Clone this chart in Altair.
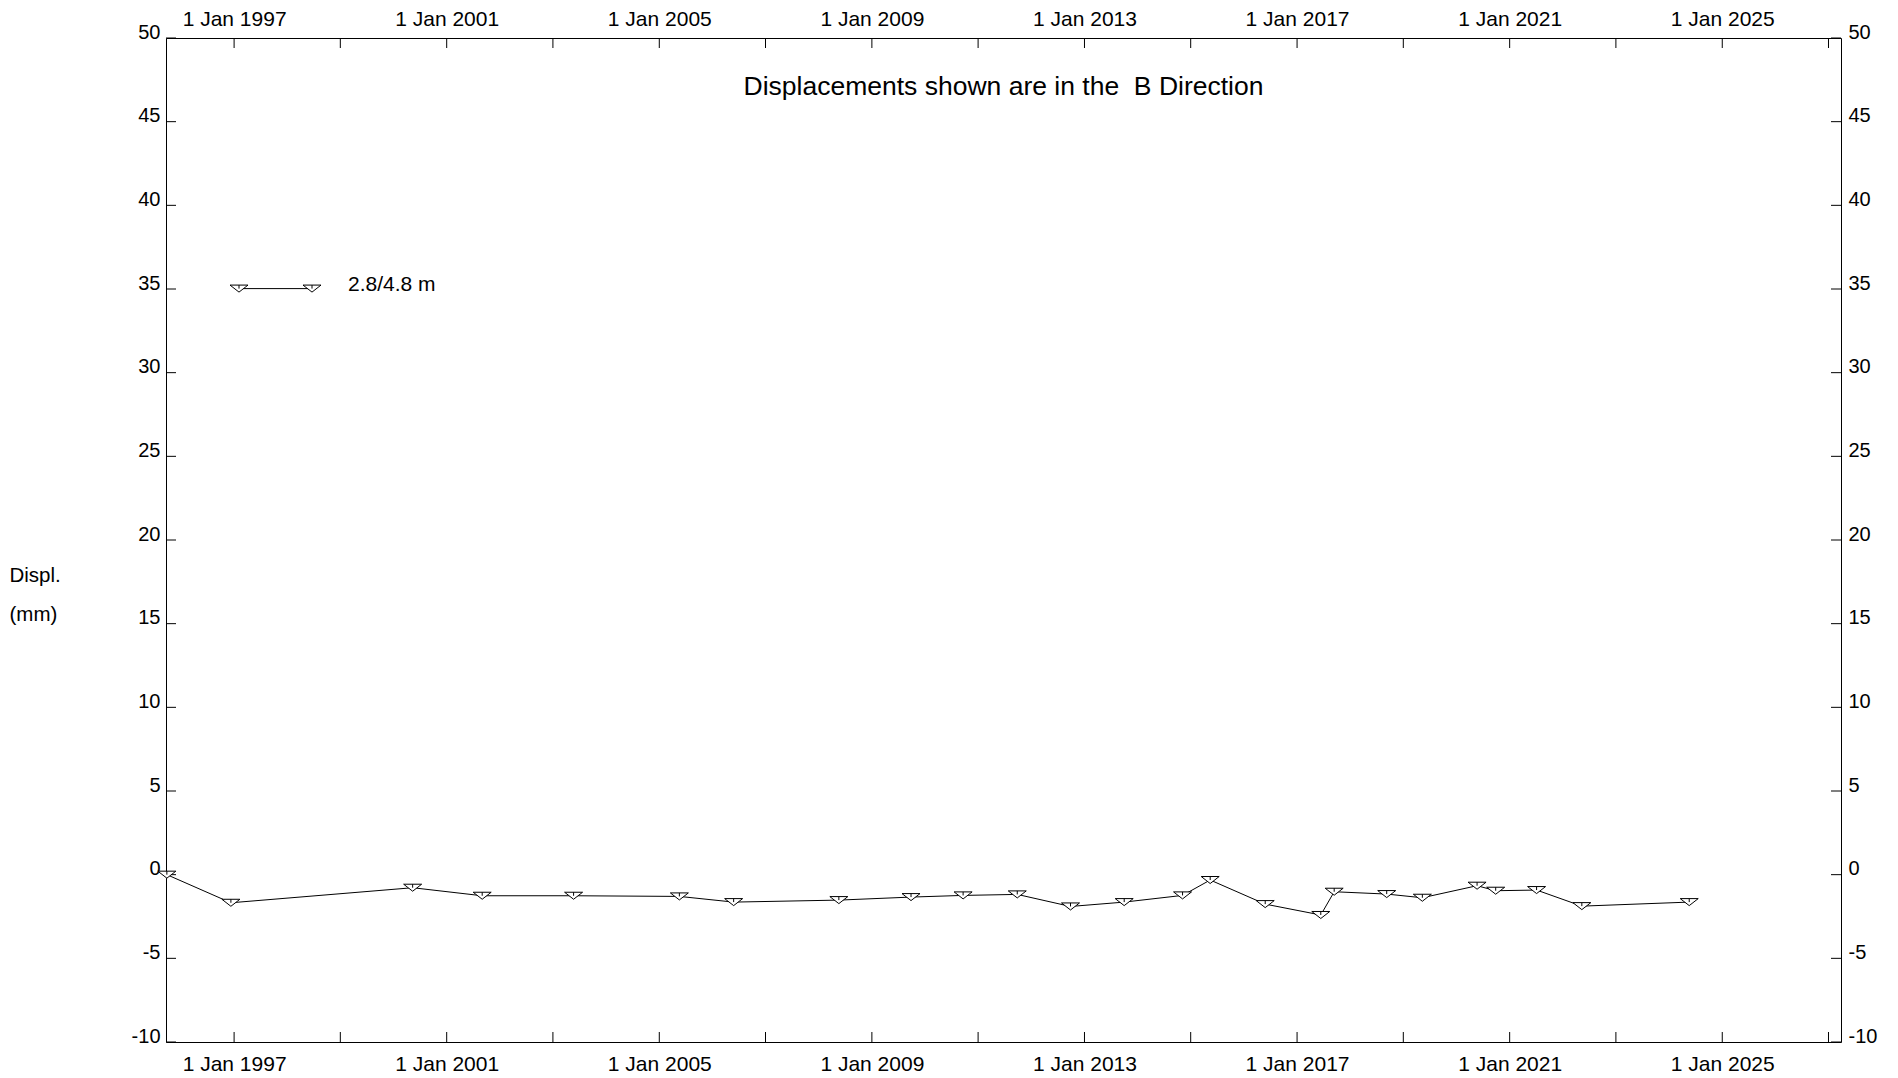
import altair as alt
import pandas as pd

FONT = "Liberation Sans"

# ---- data ----
dates = [
    "1995-09-27", "1996-12-10", "2000-05-12", "2001-09-02", "2003-05-23",
    "2005-05-19", "2006-05-27", "2008-05-19", "2009-09-27", "2010-09-20",
    "2011-09-27", "2012-09-27", "2013-10-01", "2014-11-06", "2015-05-15",
    "2016-05-27", "2017-06-13", "2017-09-13", "2018-09-09", "2019-05-12",
    "2020-05-22", "2020-09-27", "2021-07-05", "2022-05-12", "2024-05-19",
]
values = [
    0.0, -1.68, -0.78, -1.26, -1.26,
    -1.30, -1.64, -1.52, -1.34, -1.24,
    -1.18, -1.90, -1.64, -1.24, -0.32,
    -1.76, -2.41, -1.02, -1.16, -1.38,
    -0.66, -0.96, -0.92, -1.88, -1.64,
]
x_tick_years = list(range(1997, 2028, 2))
y_ticks = list(range(-10, 51, 5))
series_label = "2.8/4.8 m"
title_text = "Displacements shown are in the\u00a0 B Direction"
y_title = ["Displ.", "(mm)"]

W, H = 1675, 1004

df = pd.DataFrame({"date": dates, "disp": values})
xt = pd.DataFrame({"date": [f"{y}-01-01" for y in x_tick_years]})
yt = pd.DataFrame({"v": y_ticks})
one = pd.DataFrame({"a": [0]})

xscale = alt.Scale(
    type="utc",
    domain=[alt.DateTime(year=1995, month=9, date=21, utc=True),
            alt.DateTime(year=2027, month=3, date=28, utc=True)],
)
yscale = alt.Scale(domain=[-10, 50], nice=False, zero=False)

xvals = [alt.DateTime(year=y, month=1, date=1, utc=True) for y in x_tick_years]
lab_expr = "(utcyear(datum.value) - 1997) % 4 == 0 ? '1 Jan ' + utcyear(datum.value) : ''"

common_x = dict(values=xvals, labelExpr=lab_expr, ticks=False, tickSize=0, grid=False,
                title=None, labelFontSize=21, labelFont=FONT, labelColor="black",
                domainColor="black", labelOverlap=False, labelFlush=False)
bottom_axis = alt.Axis(orient="bottom", labelPadding=11, labelBaseline="top", **common_x)
top_axis = alt.Axis(orient="top", labelPadding=13, labelBaseline="alphabetic", **common_x)

common_y = dict(values=y_ticks, labelExpr="'' + datum.value", ticks=False, tickSize=0,
                grid=False, labelFontSize=20, labelFont=FONT, labelColor="black",
                domainColor="black", labelOverlap=False, labelFlush=False,
                labelBaseline="alphabetic")
left_axis = alt.Axis(orient="left", labelPadding=6, title=y_title, titleAngle=0,
                     titleAlign="left", titleBaseline="alphabetic", titleX=-157,
                     titleY=543, titleFontSize=20.5, titleFont=FONT,
                     titleFontWeight="normal", titleLineHeight=39, titleColor="black",
                     **common_y)
right_axis = alt.Axis(orient="right", labelPadding=7, title=None, **common_y)

TRI = "M-1,-0.39L1,-0.39L0,0.39ZM0,-0.39L0,0"

line = alt.Chart(df).mark_line(color="black", strokeWidth=1).encode(
    x=alt.X("date:T", scale=xscale, axis=bottom_axis),
    y=alt.Y("disp:Q", scale=yscale, axis=left_axis),
)
points = alt.Chart(df).mark_point(
    shape=TRI, size=324, filled=True, fill="white", stroke="black",
    strokeWidth=1, opacity=1, fillOpacity=1, strokeOpacity=1,
).encode(
    x=alt.X("date:T", scale=xscale, axis=top_axis),
    y=alt.Y("disp:Q", scale=yscale, axis=right_axis),
)

rule_kw = dict(color="black", strokeWidth=1)
xb = alt.Chart(xt).mark_rule(**rule_kw).encode(
    x=alt.X("date:T", scale=xscale, axis=None), y=alt.value(H), y2=alt.value(H - 10))
xtp = alt.Chart(xt).mark_rule(**rule_kw).encode(
    x=alt.X("date:T", scale=xscale, axis=None), y=alt.value(0), y2=alt.value(10))
yl = alt.Chart(yt).mark_rule(**rule_kw).encode(
    y=alt.Y("v:Q", scale=yscale, axis=None), x=alt.value(0), x2=alt.value(10))
yr = alt.Chart(yt).mark_rule(**rule_kw).encode(
    y=alt.Y("v:Q", scale=yscale, axis=None), x=alt.value(W - 10), x2=alt.value(W))

# legend (drawn inside the plot)
leg_rule = alt.Chart(one).mark_rule(**rule_kw).encode(
    x=alt.value(73), x2=alt.value(146), y=alt.value(250.6))
pt_kw = dict(shape=TRI, size=324, filled=True, fill="white", stroke="black",
             strokeWidth=1, opacity=1)
leg_p1 = alt.Chart(one).mark_point(**pt_kw).encode(x=alt.value(73), y=alt.value(250.6))
leg_p2 = alt.Chart(one).mark_point(**pt_kw).encode(x=alt.value(146), y=alt.value(250.6))
leg_txt = alt.Chart(one).mark_text(
    text=series_label, font=FONT, fontSize=21, align="left", baseline="alphabetic",
    color="black").encode(x=alt.value(182), y=alt.value(252.5))

title = alt.Chart(one).mark_text(
    text=title_text, font=FONT, fontSize=26.5, align="center", baseline="alphabetic",
    color="black").encode(x=alt.value(W / 2), y=alt.value(57))

chart = alt.layer(
    xb, xtp, yl, yr, line, leg_rule, points, leg_p1, leg_p2, leg_txt, title
).resolve_axis(
    x="independent", y="independent"
).properties(
    width=W, height=H,
    padding={"left": 158, "top": 30, "right": 40, "bottom": 34},
    autosize=alt.AutoSizeParams(type="none"),
).configure_view(
    stroke="black", strokeWidth=1
).configure(
    background="white"
)

chart.save("out.html", embed_options={"renderer": "svg", "actions": False})
